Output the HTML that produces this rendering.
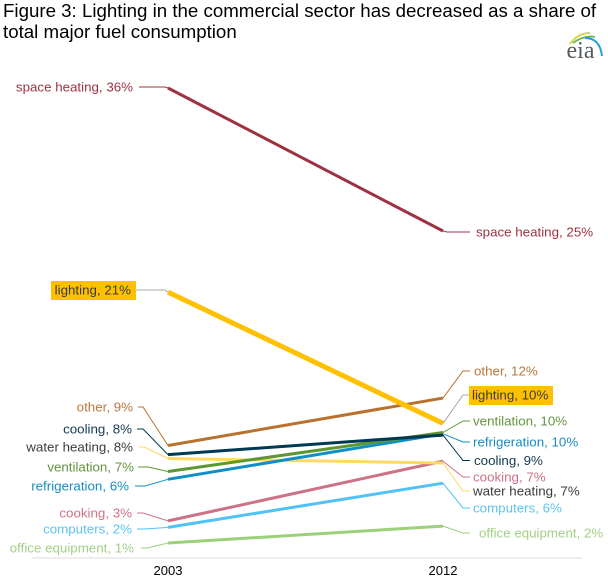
<!DOCTYPE html>
<html>
<head>
<meta charset="utf-8">
<style>
html,body{margin:0;padding:0;background:#fff;width:608px;height:581px;overflow:hidden}
svg{display:block}
text{font-family:"Liberation Sans",Arial,sans-serif}
</style>
</head>
<body>
<svg id="chart" width="608" height="581" viewBox="0 0 608 581" xmlns="http://www.w3.org/2000/svg">
<text x="3" y="17" font-size="18.7" fill="#000">Figure 3: Lighting in the commercial sector has decreased as a share of</text>
<text x="3" y="38" font-size="18.7" fill="#000">total major fuel consumption</text>
<g>
<path d="M570 44 Q578 33 590 33" fill="none" stroke="#d6d84a" stroke-width="2"/>
<path d="M573 43 Q584 35 595 37" fill="none" stroke="#5fb04a" stroke-width="1.6"/>
<path d="M585 38 Q600 38 602 56" fill="none" stroke="#2a9fd6" stroke-width="2"/>
<text x="566.5" y="58" font-size="24" style="font-family:'Liberation Serif',serif" fill="#555b60">eia</text>
</g>
<line x1="32" y1="558" x2="582" y2="558" stroke="#dcdcdc" stroke-width="1"/>
<g id="marks"></g>
</svg>
<script>
const categories = ["2003", "2012"];
const seriesNames = ["office equipment", "computers", "cooking", "water heating", "refrigeration", "ventilation", "cooling", "other", "lighting", "space heating"];
const values2003 = [1.0, 2.2, 2.7, 7.5, 5.9, 6.5, 7.8, 8.5, 20.3, 36.0];
const values2012 = [2.3, 5.6, 7.3, 7.15, 9.4, 9.5, 9.3, 12.15, 10.2, 25.0];
const printed2003 = ["1%", "2%", "3%", "8%", "6%", "7%", "8%", "9%", "21%", "36%"];
const printed2012 = ["2%", "6%", "7%", "7%", "10%", "10%", "9%", "12%", "10%", "25%"];
const lineColors = ["#9bd179", "#4fc3f7", "#cd7284", "#ffd966", "#0f8fc8", "#5d9732", "#003953", "#b9722d", "#ffc000", "#9d3243"];
const textColors = ["#a3cf86", "#5cc4f2", "#cd7284", "#3c3c3c", "#1a8cc0", "#65933f", "#12384f", "#b8793c", "#3c3c3c", "#9d3243"];
const lineWidths = [3, 3, 3, 3, 3, 3, 3, 3, 5, 3];

/* label placement (layout only, not data) */
const leftLabelY = [548, 529, 513, 447, 486, 467, 429, 407, 290, 87];
const rightLabelY = [533, 508, 477, 491, 442, 421, 460.5, 371, 395, 232];
const leftTextX = [134, 132, 132, 133, 129, 134, 132, 133, 131, 133];
const rightTextX = [479, 473, 473, 473, 473, 473, 474, 474, 472, 476];
const leftLeadStart = [141, 137, 137, 139, 135, 138, 137, 138, 136, 139];
const leftElbow = [147, 145, 143, 144, 145, 148, 143, 143, 165, 165];

const xScale = function (i) { return 168 + i * 275; };
const yScale = function (v) { return 556 - 13 * v; };
const NS = "http://www.w3.org/2000/svg";
const marks = document.getElementById("marks");

function make(tag, attrs, parent) {
  const el = document.createElementNS(NS, tag);
  for (const k in attrs) el.setAttribute(k, attrs[k]);
  parent.appendChild(el);
  return el;
}

categories.forEach(function (c, i) {
  const t = make("text", { x: xScale(i), y: 575, "font-size": 13, "text-anchor": "middle", fill: "#000" }, marks);
  
  
  t.textContent = c;
});

seriesNames.forEach(function (name, i) {
  const x0 = xScale(0), x1 = xScale(1);
  const y0 = yScale(values2003[i]), y1 = yScale(values2012[i]);
  const col = lineColors[i];
  const isLighting = name === "lighting";
  const leadCol = isLighting ? "#a8a8a8" : col;

  const ll = make("polyline", { points: leftLeadStart[i] + "," + leftLabelY[i] + " " + leftElbow[i] + "," + leftLabelY[i] + " " + x0 + "," + y0, fill: "none", stroke: leadCol, "stroke-width": 1 }, marks);
  
  

  const flat = name === "space heating";
  const elbowX = flat ? 447 : 463;
  const rl = make("polyline", { points: x1 + "," + y1 + " " + elbowX + "," + rightLabelY[i] + " 470," + rightLabelY[i], fill: "none", stroke: leadCol, "stroke-width": 1 }, marks);
  
  
});

seriesNames.forEach(function (name, i) {
  const line = make("line", { x1: xScale(0), y1: yScale(values2003[i]), x2: xScale(1), y2: yScale(values2012[i]), stroke: lineColors[i], "stroke-width": lineWidths[i] }, marks);
  
  
});

seriesNames.forEach(function (name, i) {
  if (name === "lighting") {
    const bl = make("rect", { x: 51, y: 281, width: 85, height: 19, fill: "#ffc000" }, marks);
    
    
    const br = make("rect", { x: 469, y: 386, width: 84, height: 19, fill: "#ffc000" }, marks);
    
    
  }
  const a = make("text", { x: leftTextX[i], y: leftLabelY[i] + 4.5, "font-size": 13.33, "text-anchor": "end", fill: textColors[i] }, marks);
  
  
  a.textContent = name + ", " + printed2003[i];
  const b = make("text", { x: rightTextX[i], y: rightLabelY[i] + 4.5, "font-size": 13.33, "text-anchor": "start", fill: textColors[i] }, marks);
  
  
  b.textContent = name + ", " + printed2012[i];
});
</script>
</body>
</html>
